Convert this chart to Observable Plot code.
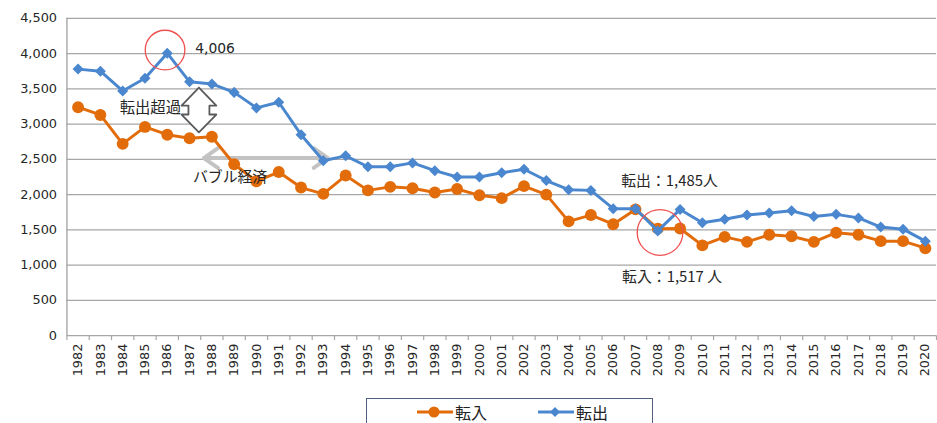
<!DOCTYPE html>
<html><head><meta charset="utf-8">
<script src="https://cdn.jsdelivr.net/npm/d3@7"></script>
<script src="https://cdn.jsdelivr.net/npm/@observablehq/plot@0.6"></script>
<style>
body{margin:0;overflow:hidden;background:#fff;width:937px;height:423px;position:relative}
#chart svg{display:block}
#legend{position:absolute;left:366px;top:398px;width:287px;height:40px;border:1.5px solid #4f5f7f;box-sizing:border-box;font-family:"Noto Sans CJK JP";font-size:16px;color:#222;background:#fff}
#legend .item{position:absolute;top:4px;display:flex;align-items:center;height:18px;line-height:18px}
#legend svg{margin-right:2px}
</style></head><body><div id="chart"></div><div id="legend"></div><script>
const years = [1982,1983,1984,1985,1986,1987,1988,1989,1990,1991,1992,1993,1994,1995,1996,1997,1998,1999,2000,2001,2002,2003,2004,2005,2006,2007,2008,2009,2010,2011,2012,2013,2014,2015,2016,2017,2018,2019,2020];
const transferIn = [3240,3130,2720,2960,2850,2800,2820,2430,2190,2320,2100,2010,2270,2060,2110,2090,2030,2080,1990,1950,2120,2000,1620,1710,1580,1790,1517,1520,1280,1400,1330,1430,1410,1330,1460,1430,1340,1340,1240];
const transferOut = [3780,3750,3470,3650,4006,3600,3570,3450,3230,3310,2850,2480,2550,2395,2395,2450,2340,2250,2250,2310,2360,2200,2070,2060,1800,1800,1485,1790,1600,1650,1710,1740,1770,1690,1720,1670,1540,1510,1340];
const seriesNames = ["転入","転出"];
const yTicks = [0,500,1000,1500,2000,2500,3000,3500,4000,4500];

const highlightCircles = [{year:1985.9, value:4050, r:20},{year:2008.1, value:1463, r:23}];
const numberLabels = [{year:1987.25, value:4065, text:"4,006"}];
const endLabels = [{year:1986.62, value:3221, text:"転出超過"}];
const startLabels = [
  {year:1987.15, value:2240, text:"バブル経済"},
  {year:2006.36, value:2194, text:"転出：1,485人"},
  {year:2006.4, value:830, text:"転入：1,517 人"}
];
const surplusArrow = {year:1987.42, top:3516, bottom:2883, headHalf:0.78, shaftHalf:0.47, head:253};
const bubbleArrow = {from:1987.64, to:1993.2, value:2518};

const orange = "#e36c0a", blue = "#4a87cf";
const inData = years.map((y,i)=>({year:y, value:transferIn[i]}));
const outData = years.map((y,i)=>({year:y, value:transferOut[i]}));
const edges = [years[0]-0.5, ...years.map(y=>y+0.5)];

const a = surplusArrow, tb = a.top - a.head, bb = a.bottom + a.head;
const arrowPoly = [
  [a.year, a.top],[a.year+a.headHalf, tb],[a.year+a.shaftHalf, tb],[a.year+a.shaftHalf, bb],
  [a.year+a.headHalf, bb],[a.year, a.bottom],[a.year-a.headHalf, bb],[a.year-a.shaftHalf, bb],
  [a.year-a.shaftHalf, tb],[a.year-a.headHalf, tb],[a.year, a.top]
].map(([x,y])=>({x,y}));
const bmid = (bubbleArrow.from + bubbleArrow.to)/2;
const bubbleArrows = [
  {x1:bmid, x2:bubbleArrow.from, y:bubbleArrow.value},
  {x1:bmid, x2:bubbleArrow.to, y:bubbleArrow.value}
];

const chart = Plot.plot({
  width: 945, height: 390,
  marginLeft: 67, marginRight: 1, marginTop: 18, marginBottom: 52,
  style: {fontFamily: "DejaVu Sans", fontSize: "13px", color: "#262626", background: "#fff"},
  x: {type: "linear", domain: [years[0]-0.5, years[years.length-1]+0.5], ticks: years, tickFormat: d=>String(d), tickSize: 0, tickPadding: 8, tickRotate: -90, label: null},
  y: {domain: [0,4500], ticks: yTicks, tickFormat: d3.format(","), tickSize: 0, tickPadding: 10, label: null},
  r: {type: "identity"},
  marks: [
    Plot.ruleY(yTicks.filter(d=>d>0), {stroke: "#a6a6a6", strokeWidth: 1.4}),
    Plot.ruleY([0], {stroke: "#a6a6a6", strokeWidth: 1.4}),
    Plot.ruleX([edges[0]], {stroke: "#a6a6a6", strokeWidth: 1.4}),
    Plot.ruleX(edges, {y1: 0, y2: 0, insetBottom: -5, stroke: "#a6a6a6", strokeWidth: 1.2}),
    Plot.arrow(bubbleArrows, {x1:"x1", x2:"x2", y1:"y", y2:"y", stroke:"#c3c3c3", strokeWidth:4, headLength:6.5, headAngle:70}),
    Plot.line(arrowPoly, {x:"x", y:"y", stroke:"#5a5a5a", fill:"#fff", strokeWidth:1.8}),
    Plot.line(inData, {x:"year", y:"value", stroke: orange, strokeWidth: 3}),
    Plot.dot(inData, {x:"year", y:"value", fill: orange, r: 6}),
    Plot.line(outData, {x:"year", y:"value", stroke: blue, strokeWidth: 3}),
    Plot.dot(outData, {x:"year", y:"value", fill: blue, symbol: "diamond2", r: 5}),
    Plot.dot(highlightCircles, {x:"year", y:"value", r:"r", stroke:"#ee5050", strokeWidth:1.3, fill:"none"}),
    Plot.text(numberLabels, {x:"year", y:"value", text:"text", textAnchor:"start", fontSize:14, fill:"#262626"}),
    Plot.text(endLabels, {x:"year", y:"value", text:"text", textAnchor:"end", fontSize:15.5, fontFamily:"Noto Sans CJK JP", fill:"#262626"}),
    Plot.text(startLabels, {x:"year", y:"value", text:"text", textAnchor:"start", fontSize:15, fontFamily:"Noto Sans CJK JP", fill:"#262626"})
  ]
});
document.getElementById("chart").appendChild(chart);

const legend = document.getElementById("legend");
const items = [
  {name: seriesNames[0], color: orange, left: 50, marker: "circle"},
  {name: seriesNames[1], color: blue, left: 171, marker: "diamond"}
];
for (const it of items) {
  const div = document.createElement("div");
  div.className = "item";
  div.style.left = it.left + "px";
  const m = it.marker === "circle"
    ? `<circle cx="17" cy="9" r="5.5" fill="${it.color}"/>`
    : `<path d="M17 4 L22 9 L17 14 L12 9 Z" fill="${it.color}"/>`;
  div.innerHTML = `<svg width="36" height="18"><line x1="0" x2="36" y1="9" y2="9" stroke="${it.color}" stroke-width="3"/>${m}</svg><span>${it.name}</span>`;
  legend.appendChild(div);
}
</script></body></html>
